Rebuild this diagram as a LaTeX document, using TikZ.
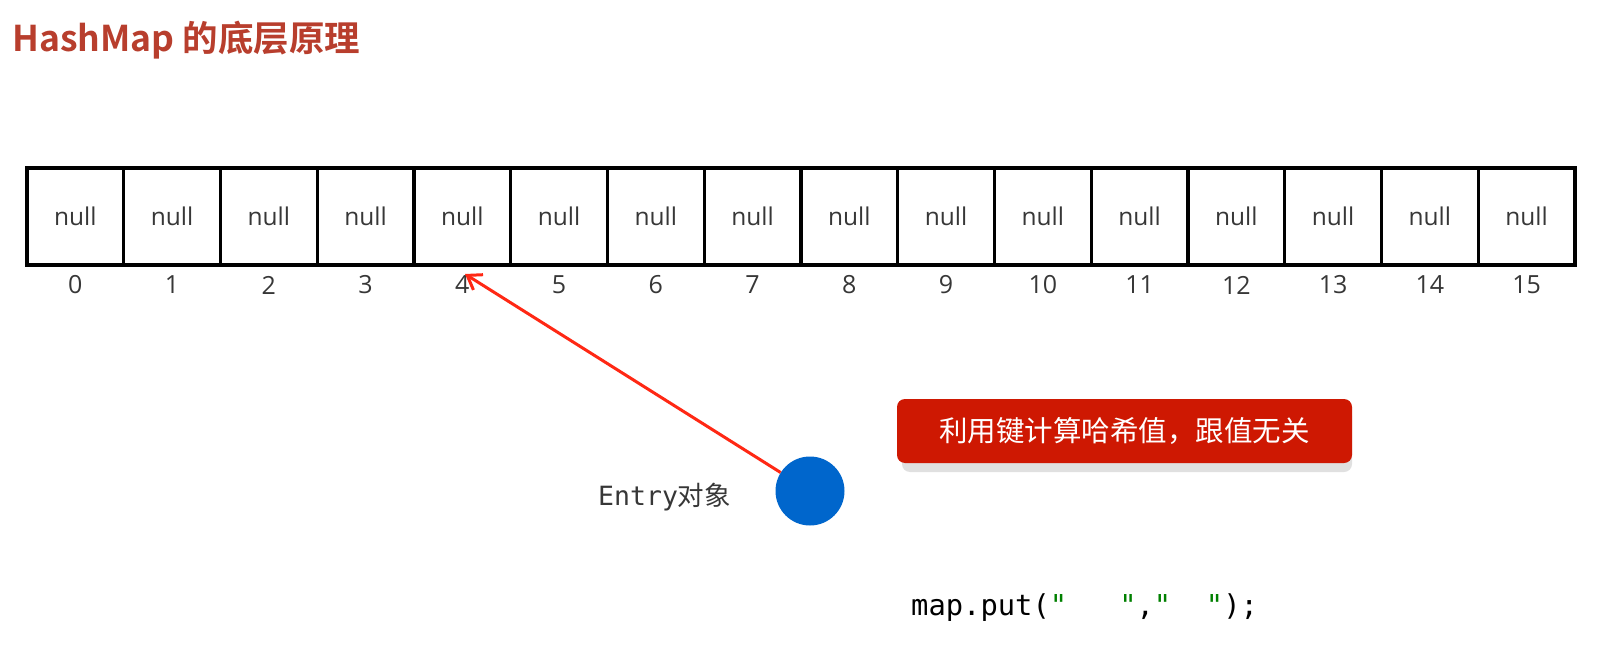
\documentclass[tikz,border=0pt]{standalone}
\usepackage{fontspec}
\usetikzlibrary{arrows.meta}
\setmainfont{Open Sans}
\newfontfamily\cjk{Noto Sans CJK SC}
\newfontfamily\cjkb{Noto Sans CJK SC Bold}
\newfontfamily\mono{DejaVu Sans Mono}
\definecolor{titlered}{RGB}{184,62,45}
\definecolor{boxred}{RGB}{206,24,2}
\definecolor{entryblue}{RGB}{0,102,204}
\definecolor{arrowred}{RGB}{255,40,20}
\definecolor{codegreen}{RGB}{0,128,0}
\definecolor{txtgray}{RGB}{55,55,55}
\tikzset{
  cell/.style={draw=black, line width=3.2pt, minimum width=96.75pt, minimum height=97pt, inner sep=0pt, font=\fontsize{24.5}{28}\selectfont, text=txtgray},
  idx/.style={font=\fontsize{25}{28}\selectfont, text=txtgray, inner sep=0pt},
  entrydot/.style={circle, fill=entryblue, minimum size=69pt, inner sep=0pt},
  redarrow/.style={draw=arrowred, line width=3pt, -{Straight Barb[length=13pt,width=18pt,line width=3pt]}},
  notebox/.style={fill=boxred, rounded corners=8pt, minimum width=455pt, minimum height=64pt, text=white, font=\cjk\fontsize{28.5}{30}\selectfont, inner sep=0pt},
  noteshadow/.style={fill=black!12, rounded corners=8pt, minimum width=450pt, minimum height=64pt},
}
\begin{document}
\begin{tikzpicture}[x=1pt,y=-1pt]
\useasboundingbox (0,0) rectangle (1618,661);
\fill[white] (0,0) rectangle (1618,661);
% title
\node[anchor=base west, inner sep=0pt, text=titlered, font=\cjkb\fontsize{35.5}{40}\selectfont] (title) at (12,52) {HashMap 的底层原理};
% array cells and indices
\foreach \i in {0,...,15}{
  \node[cell] (c\i) at ({27+96.75*\i+48.375},216.5) {null};
  \node[idx] (n\i) at ({27+96.75*\i+48.375},285) {\i};
}
% entry object
\node[entrydot] (entry) at (810,491) {};
\node[anchor=west, inner sep=0pt, text=txtgray, font=\fontsize{26.5}{30}\selectfont] (entrylabel) at (598,497) {\mono Entry\cjk 对象};
\coordinate (tip) at (465,274);
\draw[redarrow] (entry) -- (tip);
% note box
\node[noteshadow] (shadow) at (1127,440) {};
\node[notebox] (note) at (1124.5,431) {利用键计算哈希值，跟值无关};
% code
\node[anchor=west, inner sep=0pt, font=\mono\fontsize{28.8}{32}\selectfont] (code) at (911,608) {map.put(\textcolor{codegreen}{"}\ \ \ \textcolor{codegreen}{"},\textcolor{codegreen}{"}\ \ \textcolor{codegreen}{"});};
\end{tikzpicture}
\end{document}
